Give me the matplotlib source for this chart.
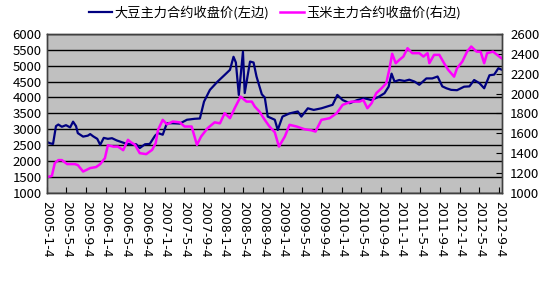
import pandas as pd
import matplotlib
matplotlib.use("Agg")
import matplotlib.pyplot as plt

plt.rcParams["font.family"] = ["Noto Sans CJK SC", "DejaVu Sans"]

# 大豆主力合约收盘价 (left axis), time in decimal years
soy_t = [2005.01, 2005.06, 2005.11, 2005.16, 2005.20, 2005.26, 2005.33, 2005.40, 2005.45, 2005.50,
         2005.53, 2005.62, 2005.70, 2005.74, 2005.79, 2005.86, 2005.91, 2005.97, 2006.04, 2006.11,
         2006.19, 2006.33, 2006.41, 2006.52, 2006.58, 2006.67, 2006.75, 2006.84, 2006.89, 2006.97,
         2007.04, 2007.14, 2007.26, 2007.38, 2007.51, 2007.60, 2007.67, 2007.77, 2007.90, 2008.02,
         2008.11, 2008.17, 2008.21, 2008.26, 2008.33, 2008.36, 2008.45, 2008.51, 2008.56, 2008.65,
         2008.70, 2008.75, 2008.87, 2008.92, 2009.00, 2009.12, 2009.26, 2009.32, 2009.43, 2009.53,
         2009.66, 2009.85, 2009.93, 2010.02, 2010.14, 2010.27, 2010.39, 2010.51, 2010.64, 2010.73,
         2010.80, 2010.85, 2010.90, 2010.98, 2011.07, 2011.15, 2011.24, 2011.32, 2011.44, 2011.54,
         2011.63, 2011.71, 2011.78, 2011.86, 2011.96, 2012.08, 2012.17, 2012.25, 2012.34, 2012.42,
         2012.51, 2012.59, 2012.66, 2012.71]
soy_v = [2600, 2560, 2540, 3100, 3150, 3080, 3130, 3060, 3240, 3100,
         2880, 2770, 2800, 2850, 2780, 2700, 2510, 2730, 2700, 2720,
         2650, 2560, 2530, 2530, 2410, 2530, 2540, 2800, 2880, 2830,
         3190, 3190, 3180, 3300, 3330, 3340, 3870, 4240, 4500, 4710,
         4870, 5280, 5100, 4080, 5440, 4140, 5130, 5100, 4660, 4100,
         4000, 3400, 3300, 2980, 3400, 3500, 3560, 3400, 3660, 3610,
         3660, 3770, 4080, 3920, 3820, 3920, 3975, 3920, 4030, 4135,
         4340, 4750, 4500, 4550, 4520, 4560, 4500, 4400, 4600, 4600,
         4660, 4350, 4290, 4240, 4230, 4340, 4350, 4550, 4450, 4290,
         4700, 4720, 4920, 4880]

# 玉米主力合约收盘价 (right axis)
corn_t = [2005.01, 2005.09, 2005.14, 2005.20, 2005.26, 2005.35, 2005.48, 2005.53, 2005.62, 2005.74,
          2005.84, 2005.91, 2005.99, 2006.04, 2006.13, 2006.21, 2006.30, 2006.38, 2006.43, 2006.50,
          2006.58, 2006.69, 2006.79, 2006.85, 2006.89, 2006.97, 2007.04, 2007.14, 2007.26, 2007.34,
          2007.46, 2007.55, 2007.62, 2007.73, 2007.85, 2007.94, 2008.02, 2008.11, 2008.19, 2008.29,
          2008.39, 2008.48, 2008.53, 2008.61, 2008.70, 2008.78, 2008.87, 2008.94, 2009.04, 2009.12,
          2009.24, 2009.38, 2009.49, 2009.56, 2009.66, 2009.80, 2009.92, 2010.02, 2010.17, 2010.31,
          2010.37, 2010.44, 2010.51, 2010.59, 2010.68, 2010.76, 2010.81, 2010.86, 2010.92, 2010.98,
          2011.05, 2011.12, 2011.20, 2011.32, 2011.39, 2011.46, 2011.49, 2011.57, 2011.66, 2011.74,
          2011.81, 2011.86, 2011.91, 2011.96, 2012.05, 2012.13, 2012.20, 2012.29, 2012.36, 2012.42,
          2012.47, 2012.57, 2012.64, 2012.71]
corn_v = [1160, 1170, 1300, 1330, 1330, 1290, 1290, 1280, 1215, 1250,
          1260, 1290, 1350, 1480, 1466, 1466, 1430, 1534, 1510, 1483,
          1400, 1390, 1433, 1500, 1634, 1735, 1690, 1718, 1710, 1668,
          1668, 1483, 1567, 1651, 1710, 1700, 1802, 1752, 1852, 1969,
          1919, 1919, 1869, 1818, 1735, 1668, 1610, 1466, 1567, 1685,
          1668, 1640, 1630, 1617, 1735, 1752, 1802, 1886, 1919, 1919,
          1936, 1852, 1902, 2003, 2053, 2104, 2238, 2400, 2305, 2338,
          2372, 2456, 2406, 2406, 2372, 2406, 2305, 2389, 2389, 2305,
          2238, 2204, 2170, 2255, 2322, 2422, 2473, 2422, 2420, 2305,
          2406, 2422, 2389, 2356]

tick_dates = ["2005-1-4", "2005-5-4", "2005-9-4", "2006-1-4", "2006-5-4", "2006-9-4",
              "2007-1-4", "2007-5-4", "2007-9-4", "2008-1-4", "2008-5-4", "2008-9-4",
              "2009-1-4", "2009-5-4", "2009-9-4", "2010-1-4", "2010-5-4", "2010-9-4",
              "2011-1-4", "2011-5-4", "2011-9-4", "2012-1-4", "2012-5-4", "2012-9-4"]

soy_label = "大豆主力合约收盘价(左边)"
corn_label = "玉米主力合约收盘价(右边)"


def dec_year(s):
    d = pd.Timestamp(s)
    n = 366 if d.is_leap_year else 365
    return d.year + (d.dayofyear - 1) / n


fig = plt.figure(figsize=(5.5, 3.0), dpi=100)
ax = fig.add_axes([0.0855, 0.357, 0.827, 0.53])
ax.set_facecolor("#c0c0c0")
ax.plot(soy_t, soy_v, color="#000080", lw=1.6, label=soy_label)
ax.set_ylim(1000, 6000)
ax.set_yticks(range(1000, 6001, 500))
ax.grid(axis="y", color="black", lw=1)
ax.set_axisbelow(True)
ax.tick_params(axis="y", length=0, labelsize=9.5, pad=4)

xt = [dec_year(s) for s in tick_dates]
ax.set_xlim(2005.01, 2012.72)
ax.set_xticks(xt)
ax.set_xticklabels(tick_dates, rotation=270, fontsize=9, family="DejaVu Sans")
ax.tick_params(axis="x", direction="in", length=4, pad=6)

ax2 = ax.twinx()
ax2.plot(corn_t, corn_v, color="#ff00ff", lw=1.8, label=corn_label)
ax2.set_ylim(1000, 2600)
ax2.set_yticks(range(1000, 2601, 200))
ax2.tick_params(axis="y", direction="in", length=4, labelsize=9.5, pad=6)

for a in (ax, ax2):
    for sp in a.spines.values():
        sp.set_color("#404040")
        sp.set_linewidth(1)

h1, l1 = ax.get_legend_handles_labels()
h2, l2 = ax2.get_legend_handles_labels()
fig.legend(h1 + h2, l1 + l2, loc="upper center", bbox_to_anchor=(0.5, 1.02), ncol=2,
           frameon=False, fontsize=9.5, handlelength=1.8, handletextpad=0.2, columnspacing=0.8)

fig.savefig("out.png", dpi=100)
